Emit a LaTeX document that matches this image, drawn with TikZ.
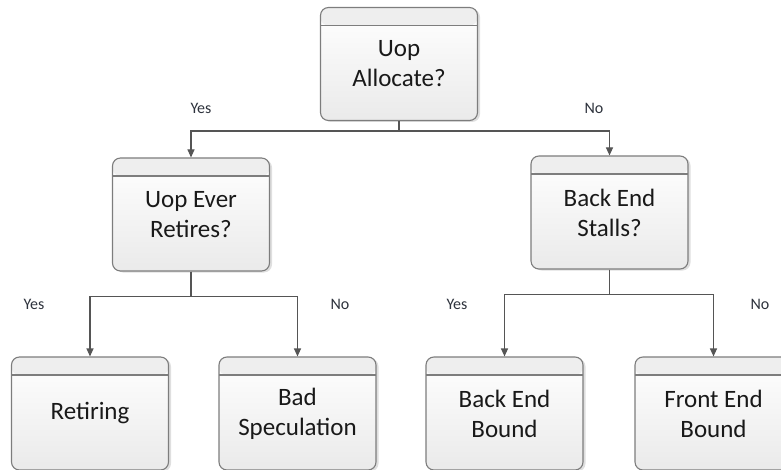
\documentclass[tikz,border=0pt]{standalone}
\usepackage{fontspec}
\setmainfont{Carlito}
\usetikzlibrary{arrows.meta,positioning,shadows}
\definecolor{boxline}{RGB}{125,125,125}
\definecolor{hdrgray}{RGB}{238,238,238}
\definecolor{bodygray}{RGB}{234,234,234}
\definecolor{wire}{RGB}{85,85,85}
\definecolor{txtdark}{RGB}{25,25,25}
\definecolor{lbldark}{RGB}{45,50,60}
\tikzset{
  qbox/.style={draw=boxline, line width=1.1pt, rounded corners=8pt,
    minimum width=157pt, minimum height=113pt, inner sep=2pt,
    top color=white, bottom color=bodygray, align=center,
    font=\fontsize{25}{30}\selectfont, text=txtdark,
    drop shadow={shadow xshift=2.5pt, shadow yshift=-1.5pt, opacity=0.25},
    path picture={
      \fill[hdrgray] (path picture bounding box.north west)
        rectangle ([yshift=-18pt]path picture bounding box.north east);
      \draw[boxline, line width=1.1pt] ([yshift=-18pt]path picture bounding box.north west)
        -- ([yshift=-18pt]path picture bounding box.north east);
    }},
  arr/.style={-{Triangle[length=8pt,width=7pt]}, wire, line width=1.1pt},
  ans/.style={font=\fontsize{16}{18}\selectfont, text=lbldark},
}
\begin{document}
\begin{tikzpicture}[x=1pt, y=1pt]
  \useasboundingbox (0,0) rectangle (781,469);
  % questions
  \node[qbox] (alloc) at (399,405) {Uop\\Allocate?};
  \node[qbox] (retires) at (191,254.5) {Uop Ever\\Retires?};
  \node[qbox] (stalls) at (609.5,256.5) {Back End\\Stalls?};
  % leaves
  \node[qbox] (retiring) at (90,55.5) {Retiring};
  \node[qbox] (badspec) at (297.5,55.5) {Bad\\Speculation};
  \node[qbox] (bebound) at (504.5,55.5) {Back End\\Bound};
  \node[qbox] (febound) at (713.5,55.5) {Front End\\Bound};
  % connectors
  \draw[arr] (alloc.south) -- ++(0,-10) -| (retires.north);
  \draw[arr] (alloc.south) -- ++(0,-10) -| (stalls.north);
  \draw[arr] (retires.south) -- ++(0,-25) -| (retiring.north);
  \draw[arr] (retires.south) -- ++(0,-25) -| (badspec.north);
  \draw[arr] (stalls.south) -- ++(0,-25) -| (bebound.north);
  \draw[arr] (stalls.south) -- ++(0,-25) -| (febound.north);
  % answers
  \node[ans] (y1) at (201,361) {Yes};
  \node[ans] (n1) at (594,361) {No};
  \node[ans] (y2) at (34,165) {Yes};
  \node[ans] (n2) at (340,165) {No};
  \node[ans] (y3) at (457,165) {Yes};
  \node[ans] (n3) at (760,165) {No};
\end{tikzpicture}
\end{document}
